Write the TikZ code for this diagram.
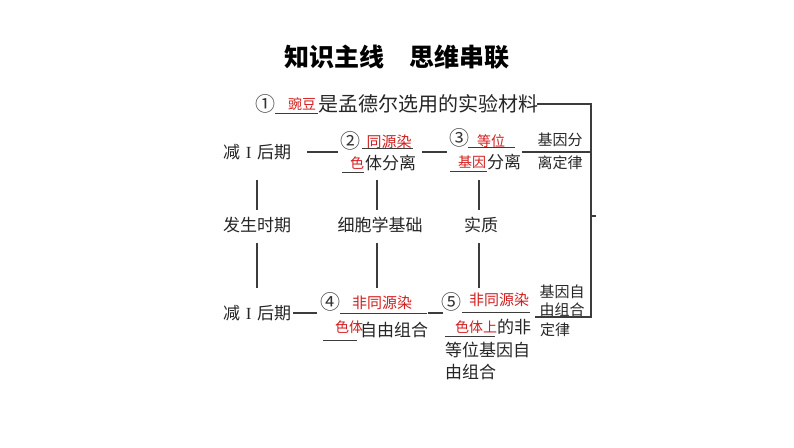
\documentclass[tikz,border=0pt]{standalone}
\usepackage{fontspec}
\newfontfamily\cjk{Noto Sans CJK SC}
\newfontfamily\romnum{Liberation Serif}
\definecolor{ansred}{RGB}{210,30,30}
\definecolor{ln}{RGB}{60,60,60}
\newcommand{\romI}{\makebox[1em]{\romnum I}}
\begin{document}
\begin{tikzpicture}[x=1pt,y=-1pt,
  txt/.style={inner sep=0pt,text=black!85,font=\cjk\fontsize{17}{17}\selectfont},
  big/.style={inner sep=0pt,text=black!85,font=\cjk\fontsize{20}{20}\selectfont},
  sml/.style={inner sep=0pt,text=black!85,font=\cjk\fontsize{15}{15}\selectfont},
  ans/.style={inner sep=0pt,text=ansred,font=\cjk\fontsize{14}{14}\selectfont},
  ansb/.style={inner sep=0pt,text=ansred,font=\cjk\fontsize{15}{15}\selectfont},
  num/.style={inner sep=0pt,text=black!80,font=\cjk\fontsize{20}{20}\selectfont},
  conn/.style={draw=ln,line width=1.1pt},
  uline/.style={draw=ln,line width=0.9pt}]
\path[use as bounding box,fill=white] (0,0) rectangle (794,447);
% title
\node[inner sep=0pt,font=\cjk\bfseries\fontsize{25}{25}\selectfont] (title) at (397,57) {知识主线　思维串联};
% line 1
\node[num] (c1) at (265,104) {①};
\node[ans] (a1) at (302,104) {豌豆};
\coordinate (u1a) at (275,113); \coordinate (u1b) at (318,113);
\draw[uline] (u1a) -- (u1b);
\node[big,anchor=west] (l1) at (318,104) {是孟德尔选用的实验材料};
% row 2
\node[txt,anchor=west] (n1) at (223,152) {减\romI 后期};
\node[num] (c2) at (350,141) {②};
\node[ansb] (a2a) at (389,142) {同源染};
\coordinate (u2a) at (362,148); \coordinate (u2b) at (413,148);
\draw[uline] (u2a) -- (u2b);
\node[ans] (a2b) at (357,163) {色};
\node[txt,anchor=west] (t2) at (365,163) {体分离};
\coordinate (u2c) at (342,172); \coordinate (u2d) at (364,172);
\draw[uline] (u2c) -- (u2d);
\node[num] (c3) at (459,138) {③};
\node[ans] (a3a) at (491,141) {等位};
\coordinate (u3a) at (468,147); \coordinate (u3b) at (515,147);
\draw[uline] (u3a) -- (u3b);
\node[ans] (a3b) at (472,162) {基因};
\coordinate (u3c) at (450,171); \coordinate (u3d) at (487,171);
\draw[uline] (u3c) -- (u3d);
\node[txt,anchor=west] (t3) at (487,162) {分离};
\node[sml] (law1a) at (560,140) {基因分};
\node[sml] (law1b) at (560,163) {离定律};
% row 3
\node[txt] (r3a) at (257,225) {发生时期};
\node[txt] (r3b) at (380,225) {细胞学基础};
\node[txt] (r3c) at (481,225) {实质};
% row 4
\node[txt,anchor=west] (m1) at (223,313) {减\romI 后期};
\node[num] (c4) at (330,302) {④};
\node[ansb] (a4a) at (382,303) {非同源染};
\coordinate (u4a) at (340,313); \coordinate (u4b) at (427,313);
\draw[uline] (u4a) -- (u4b);
\node[ans] (a4b) at (349,327) {色体};
\node[txt,anchor=west] (t4) at (360,330) {自由组合};
\coordinate (u4c) at (323,340); \coordinate (u4d) at (357,340);
\draw[uline] (u4c) -- (u4d);
\node[num] (c5) at (451,302) {⑤};
\node[ansb] (a5a) at (499,300) {非同源染};
\coordinate (u5a) at (462,312); \coordinate (u5b) at (530,312);
\draw[uline] (u5a) -- (u5b);
\node[ans] (a5b) at (476,327) {色体上};
\node[txt,anchor=west] (t5a) at (497,327) {的非};
\coordinate (u5c) at (445,336); \coordinate (u5d) at (495,336);
\draw[uline] (u5c) -- (u5d);
\node[txt,anchor=west] (t5b) at (445,350) {等位基因自};
\node[txt,anchor=west] (t5c) at (445,372) {由组合};
\node[sml] (law2a) at (562,292) {基因自};
\node[sml] (law2b) at (562,310) {由组合};
\node[sml,anchor=west] (law2c) at (540,330) {定律};
% connector end points
\coordinate (h1a) at (307,152); \coordinate (h1b) at (338,152);
\coordinate (h2a) at (422,152); \coordinate (h2b) at (447,152);
\coordinate (h3a) at (522,152); \coordinate (b2) at (591,152);
\coordinate (h4a) at (293,313); \coordinate (h4b) at (317,313);
\coordinate (h5a) at (428,313); \coordinate (h5b) at (443,313);
\coordinate (va1) at (257,180); \coordinate (va2) at (257,210);
\coordinate (va3) at (257,243); \coordinate (va4) at (257,288);
\coordinate (vb1) at (377,180); \coordinate (vb2) at (377,210);
\coordinate (vb3) at (377,243); \coordinate (vb4) at (377,288);
\coordinate (vc1) at (479,180); \coordinate (vc2) at (479,210);
\coordinate (vc3) at (479,243); \coordinate (vc4) at (479,288);
% connectors
\draw[conn] (h1a) -- (h1b);
\draw[conn] (h2a) -- (h2b);
\draw[conn] (h3a) -- (b2);
\draw[conn] (h4a) -- (h4b);
\draw[conn] (h5a) -- (h5b);
\draw[conn] (va1) -- (va2); \draw[conn] (va3) -- (va4);
\draw[conn] (vb1) -- (vb2); \draw[conn] (vb3) -- (vb4);
\draw[conn] (vc1) -- (vc2); \draw[conn] (vc3) -- (vc4);
% bracket
\coordinate (bt0) at (537,104);
\coordinate (bt) at (591,104);
\coordinate (bb) at (591,317);
\coordinate (bb0) at (535,317);
\coordinate (bm) at (591,216);
\coordinate (tick) at (596,216);
\draw[conn] (bt0) -- (bt) -- (bb) -- (bb0);
\draw[conn] (bm) -- (tick);
\end{tikzpicture}
\end{document}
